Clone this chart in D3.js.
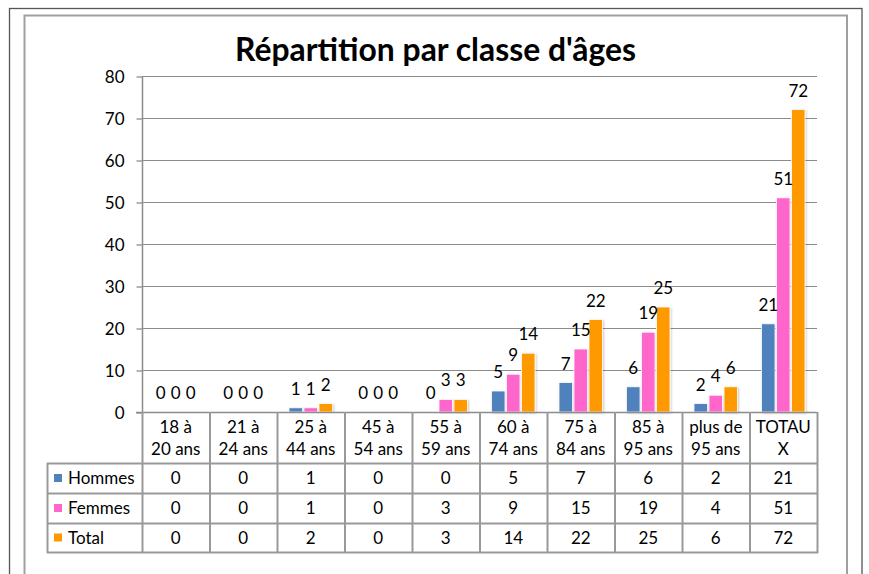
<!DOCTYPE html>
<html>
<head>
<meta charset="utf-8">
<script src="https://cdn.jsdelivr.net/npm/d3@7"></script>
<style>
  body { margin: 0; background: #fff; }
  svg text { font-family: Lato, "Open Sans", sans-serif; fill: #000; }
</style>
</head>
<body>
<div id="chart"></div>
<script>
// DATA
var title = "Répartition par classe d'âges";
var categories = ["18 à\n20 ans", "21 à\n24 ans", "25 à\n44 ans", "45 à\n54 ans", "55 à\n59 ans",
                  "60 à\n74 ans", "75 à\n84 ans", "85 à\n95 ans", "plus de\n95 ans", "TOTAU\nX"];
var seriesNames = ["Hommes", "Femmes", "Total"];
var hommes = [0, 0, 1, 0, 0, 5, 7, 6, 2, 21];
var femmes = [0, 0, 1, 0, 3, 9, 15, 19, 4, 51];
var total  = [0, 0, 2, 0, 3, 14, 22, 25, 6, 72];
var yTicks = [0, 10, 20, 30, 40, 50, 60, 70, 80];
var colors = ["#4f81bd", "#ff66cc", "#ff9900"];

var seriesValues = [hommes, femmes, total];

(function() {
  var W = 869, H = 574;
  var plot = {left: 142, right: 817, top: 76, bottom: 412};
  var tableLeft = 47;
  var rowLines = [463, 493, 523, 552];
  var fs = "17px";

  var svg = d3.select("#chart").append("svg")
      .attr("width", W).attr("height", H);

  svg.append("rect").attr("width", W).attr("height", H).attr("fill", "#fff");

  var defs = svg.append("defs");
  defs.append("filter").attr("id", "shadow")
      .attr("x", "-30%").attr("y", "-10%").attr("width", "160%").attr("height", "120%")
    .append("feDropShadow")
      .attr("dx", 1).attr("dy", 1).attr("stdDeviation", 1.3)
      .attr("flood-color", "#000").attr("flood-opacity", 0.22);

  // frames
  svg.append("rect")
      .attr("x", 9.5).attr("y", 8.5).attr("width", 852.5).attr("height", 620)
      .attr("fill", "none").attr("stroke", "#555").attr("stroke-width", 1.3);
  svg.append("rect")
      .attr("x", 24.5).attr("y", 15.5).attr("width", 822.5).attr("height", 620)
      .attr("fill", "none").attr("stroke", "#a0a0a0").attr("stroke-width", 2);

  // title
  var t = svg.append("text")
      .attr("x", 435.5).attr("y", 61)
      .attr("text-anchor", "middle")
      .style("font-weight", "bold")
      .style("font-size", "28px")
      .text(title);
  var tw = t.node().getComputedTextLength();
  t.style("font-size", (28 * 401 / tw) + "px");

  // SCALES
  var x0 = d3.scaleBand().domain(categories).range([plot.left, plot.right]);
  var x1 = d3.scaleBand().domain(seriesNames)
      .range([12, x0.bandwidth() - 12]).paddingInner(0.1);
  var y = d3.scaleLinear().domain([0, 80]).range([plot.bottom, plot.top]);

  // gridlines
  svg.append("g").selectAll("line")
      .data(yTicks.filter(function(d) { return d > 0; }))
      .enter().append("line")
      .attr("x1", plot.left).attr("x2", plot.right)
      .attr("y1", function(d) { return y(d) + 0.5; })
      .attr("y2", function(d) { return y(d) + 0.5; })
      .attr("stroke", "#8c8c8c").attr("stroke-width", 1.2);

  // y axis
  var yAxis = d3.axisLeft(y).tickValues(yTicks).tickSize(6).tickPadding(12);
  var ga = svg.append("g")
      .attr("transform", "translate(" + (plot.left + 0.5) + ",0.5)")
      .call(yAxis);
  ga.select(".domain").attr("stroke", "#8c8c8c").attr("stroke-width", 1.5)
      .attr("d", "M0," + plot.top + "V" + plot.bottom);
  ga.selectAll(".tick line").attr("stroke", "#8c8c8c").attr("stroke-width", 1.3);
  ga.selectAll(".tick text").style("font-size", fs).attr("fill", "#000")
      .attr("dy", "0.36em");

  // bars
  var groups = svg.append("g").selectAll("g")
      .data(categories)
      .enter().append("g")
      .attr("transform", function(d) { return "translate(" + x0(d) + ",0)"; });

  seriesNames.forEach(function(s, si) {
    groups.append("rect")
        .attr("x", function(d) { return x1(s); })
        .attr("width", x1.bandwidth())
        .attr("y", function(d, i) { return y(seriesValues[si][i]); })
        .attr("height", function(d, i) { return plot.bottom - y(seriesValues[si][i]); })
        .attr("fill", colors[si])
        .attr("stroke", "#fff").attr("stroke-width", 0.8)
        .attr("filter", "url(#shadow)");
  });

  seriesNames.forEach(function(s, si) {
    groups.append("text")
        .attr("x", function(d) { return x1(s) + x1.bandwidth() / 2; })
        .attr("y", function(d, i) { return y(seriesValues[si][i]) - 13; })
        .attr("text-anchor", "middle")
        .style("font-size", fs)
        .text(function(d, i) { return seriesValues[si][i]; });
  });

  // zero line (extends left like a tick)
  svg.append("line")
      .attr("x1", plot.left - 6).attr("x2", plot.right)
      .attr("y1", plot.bottom + 0.5).attr("y2", plot.bottom + 0.5)
      .attr("stroke", "#8c8c8c").attr("stroke-width", 1.5);

  // DATA TABLE
  var tbl = svg.append("g");
  var lineColor = "#999";

  var bounds = categories.map(function(c) { return x0(c); }).concat([plot.right]);
  tbl.selectAll("line.v")
      .data(bounds)
      .enter().append("line")
      .attr("class", "v")
      .attr("x1", function(d) { return d + 0.5; }).attr("x2", function(d) { return d + 0.5; })
      .attr("y1", plot.bottom).attr("y2", rowLines[rowLines.length - 1] + 1)
      .attr("stroke", lineColor).attr("stroke-width", 2);

  tbl.append("line")
      .attr("x1", tableLeft + 0.5).attr("x2", tableLeft + 0.5)
      .attr("y1", rowLines[0]).attr("y2", rowLines[rowLines.length - 1] + 1)
      .attr("stroke", lineColor).attr("stroke-width", 2);

  tbl.selectAll("line.h")
      .data(rowLines)
      .enter().append("line")
      .attr("class", "h")
      .attr("x1", tableLeft).attr("x2", plot.right + 1)
      .attr("y1", function(d) { return d + 0.5; }).attr("y2", function(d) { return d + 0.5; })
      .attr("stroke", lineColor).attr("stroke-width", 2);

  // category labels (two lines)
  var catText = tbl.selectAll("text.cat")
      .data(categories)
      .enter().append("text")
      .attr("class", "cat")
      .attr("text-anchor", "middle")
      .style("font-size", fs);
  catText.selectAll("tspan")
      .data(function(d) { return d.split("\n").map(function(l) { return {line: l, cat: d}; }); })
      .enter().append("tspan")
      .attr("x", function(d) { return x0(d.cat) + x0.bandwidth() / 2; })
      .attr("y", function(d, i) { return 433 + i * 22; })
      .text(function(d) { return d.line; });

  // rows
  seriesNames.forEach(function(s, si) {
    var top = rowLines[si], bot = rowLines[si + 1];
    var cy = (top + bot) / 2;

    tbl.append("rect")
        .attr("x", 54).attr("y", cy - 4).attr("width", 8).attr("height", 8)
        .attr("fill", colors[si]);
    tbl.append("text")
        .attr("x", 68).attr("y", cy + 6)
        .style("font-size", fs)
        .text(s);

    tbl.selectAll("text.r" + si)
        .data(seriesValues[si])
        .enter().append("text")
        .attr("class", "r" + si)
        .attr("x", function(d, i) { return x0(categories[i]) + x0.bandwidth() / 2; })
        .attr("y", cy + 6)
        .attr("text-anchor", "middle")
        .style("font-size", fs)
        .text(function(d) { return d; });
  });
})();
</script>
</body>
</html>
